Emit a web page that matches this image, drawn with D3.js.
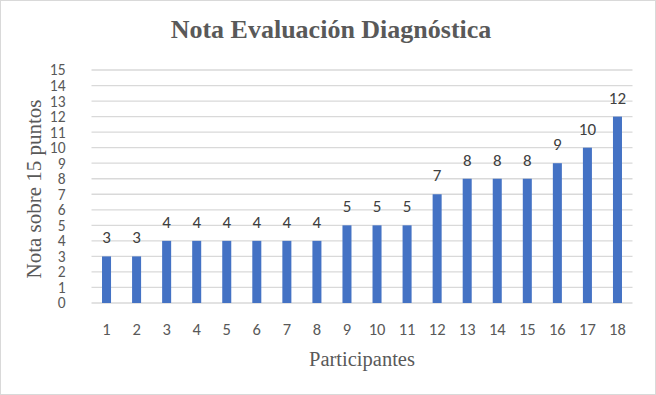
<!DOCTYPE html>
<html>
<head>
<meta charset="utf-8">
<script src="https://cdn.jsdelivr.net/npm/d3@7"></script>
<style>
  body { margin: 0; background: #fff; }
  svg { display: block; }
</style>
</head>
<body>
<div id="chart"></div>
<script>
'use strict';

const participants = ['1','2','3','4','5','6','7','8','9','10','11','12','13','14','15','16','17','18'];
const notas = [3, 3, 4, 4, 4, 4, 4, 4, 5, 5, 5, 7, 8, 8, 8, 9, 10, 12];
const yTicks = d3.range(0, 16);
const title = 'Nota Evaluación Diagnóstica';
const yTitle = 'Nota sobre 15 puntos';
const xTitle = 'Participantes';

const W = 656, H = 395;
const margin = {top: 70, right: 23.5, bottom: 92, left: 91.5};
const width = W - margin.left - margin.right;
const height = H - margin.top - margin.bottom;
const sans = 'Carlito, Roboto, sans-serif';
const serif = '"Liberation Serif", "DejaVu Serif", serif';

const svg = d3.select('#chart').append('svg')
    .attr('width', W)
    .attr('height', H);

svg.append('rect')
    .attr('x', 0.5).attr('y', 0.5)
    .attr('width', W - 1).attr('height', H - 1)
    .attr('fill', '#fff')
    .attr('stroke', '#d9d9d9');

const graph = svg.append('g')
    .attr('transform', `translate(${margin.left},${margin.top})`);

const xScale = d3.scaleBand().domain(participants).range([0, width]).paddingInner(0.7).paddingOuter(0.35);
const yScale = d3.scaleLinear().domain([0, 15]).range([height, 0]);

// gridlines
graph.append('g')
    .selectAll('line')
    .data(yTicks)
    .join('line')
    .attr('x1', 0).attr('x2', width)
    .attr('y1', d => yScale(d)).attr('y2', d => yScale(d))
    .attr('stroke', '#d9d9d9')
    .attr('stroke-width', 1.3);

// y axis (labels are packed tight, like the original)
graph.append('g')
    .call(d3.axisLeft(yScale).tickValues(yTicks).tickSize(0).tickPadding(26))
    .call(g => g.select('.domain').remove())
    .call(g => g.selectAll('text')
        .attr('fill', '#595959')
        .style('font', `15.5px ${sans}`));

// x axis
graph.append('g')
    .attr('transform', `translate(0,${height})`)
    .call(d3.axisBottom(xScale).tickSize(0).tickPadding(20))
    .call(g => g.select('.domain').remove())
    .call(g => g.selectAll('text')
        .attr('fill', '#595959')
        .style('font', `16.5px ${sans}`));

// bars
graph.append('g')
    .selectAll('rect')
    .data(notas)
    .join('rect')
    .attr('x', (d, i) => xScale(participants[i]))
    .attr('y', d => yScale(d))
    .attr('width', xScale.bandwidth())
    .attr('height', d => height - yScale(d))
    .attr('fill', '#4472c4');

// data labels
graph.append('g')
    .selectAll('text')
    .data(notas)
    .join('text')
    .attr('x', (d, i) => xScale(participants[i]) + xScale.bandwidth() / 2)
    .attr('y', d => yScale(d) - 13)
    .attr('text-anchor', 'middle')
    .attr('fill', '#404040')
    .style('font', `17px ${sans}`)
    .text(d => d);

svg.append('text')
    .attr('x', 331)
    .attr('y', 38)
    .attr('text-anchor', 'middle')
    .attr('fill', '#595959')
    .style('font', `bold 26px ${serif}`)
    .text(title);

svg.append('text')
    .attr('transform', `translate(41,189) rotate(-90)`)
    .attr('text-anchor', 'middle')
    .attr('fill', '#595959')
    .style('font', `21px ${serif}`)
    .text(yTitle);

svg.append('text')
    .attr('x', margin.left + width / 2)
    .attr('y', 366)
    .attr('text-anchor', 'middle')
    .attr('fill', '#595959')
    .style('font', `20.5px ${serif}`)
    .text(xTitle);
</script>
</body>
</html>
